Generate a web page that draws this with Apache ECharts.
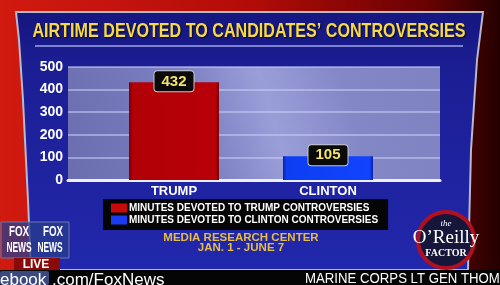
<!DOCTYPE html>
<html>
<head>
<meta charset="utf-8">
<script src="https://cdn.jsdelivr.net/npm/echarts@6/dist/echarts.min.js"></script>
<style>html,body{margin:0;padding:0;background:#000;}#c{width:500px;height:285px;}</style>
</head>
<body>
<div id="c"></div>
<script>
const chartTitle = 'AIRTIME DEVOTED TO CANDIDATES\u2019 CONTROVERSIES';
const categories = ['TRUMP', 'CLINTON'];
const seriesNames = ['MINUTES DEVOTED TO TRUMP CONTROVERSIES', 'MINUTES DEVOTED TO CLINTON CONTROVERSIES'];
const trumpMinutes = [432, '-'];
const clintonMinutes = ['-', 105];
const yMin = 0, yMax = 500, yStep = 100;
const sourceLines = ['MEDIA RESEARCH CENTER', 'JAN. 1 - JUNE 7'];
const tickerLeft = '.com/FoxNews';
const tickerRight = 'MARINE CORPS LT GEN THOM';

const FONT = '"Liberation Sans", Arial, sans-serif';
const chart = echarts.init(document.getElementById('c'), null, {renderer: 'canvas'});
const G = echarts.graphic;

const option = {
  animation: false,
  backgroundColor: new G.LinearGradient(0, 0, 1, 0, [
    {offset: 0, color: '#d11a10'}, {offset: 0.5, color: '#b30c08'},
    {offset: 0.85, color: '#6a0202'}, {offset: 1, color: '#250000'}
  ]),
  textStyle: {fontFamily: FONT},
  graphic: [
    // blue panel
    {type: 'polygon', z: -10, shape: {points: [[16,12],[483,12],[477,60],[471,150],[468,270],[31,270],[28,200],[23,100],[19,40]]},
     style: {fill: new G.LinearGradient(0,0,0,1,[{offset:0,color:'#16167e'},{offset:0.2,color:'#1b1d92'},{offset:1,color:'#2228ac'}]), stroke: '#b9b9cc', lineWidth: 2}},
    {type: 'line', z: -9, shape: {x1: 35, y1: 46, x2: 463, y2: 46}, style: {stroke: '#9ea4e4', lineWidth: 1.5}},
    {type: 'text', z: 5, x: 249, y: 31, scaleX: 0.768,
     style: {text: chartTitle, font: 'bold 21px ' + FONT, fill: '#f6d94a', align: 'center', verticalAlign: 'middle',
             textShadowColor: 'rgba(0,0,0,0.8)', textShadowBlur: 2, textShadowOffsetX: 1, textShadowOffsetY: 1}},
    // source
    {type: 'text', x: 241, y: 238, style: {text: sourceLines[0], font: 'bold 11.5px ' + FONT, fill: '#e6bd45', align: 'center', verticalAlign: 'middle'}},
    {type: 'text', x: 241, y: 248, style: {text: sourceLines[1], font: 'bold 11.5px ' + FONT, fill: '#e6bd45', align: 'center', verticalAlign: 'middle'}},
    // bottom ticker
    {type: 'rect', z: 10, shape: {x: 0, y: 270, width: 500, height: 15}, style: {fill: '#050505'}},
    {type: 'rect', z: 11, shape: {x: 0, y: 271, width: 49, height: 14, r: 2}, style: {fill: '#3a4a80'}},
    {type: 'text', z: 12, x: 0, y: 280, style: {text: 'ebook', font: '17px ' + FONT, fill: '#ffffff', verticalAlign: 'middle'}},
    {type: 'text', z: 12, x: 52, y: 280, style: {text: tickerLeft, font: '17px ' + FONT, fill: '#ffffff', verticalAlign: 'middle'}},
    {type: 'text', z: 12, x: 305, y: 279, scaleX: 0.88, style: {text: tickerRight, font: '15px ' + FONT, fill: '#ffffff', verticalAlign: 'middle'}},
    // fox news logo
    {type: 'rect', z: 10, shape: {x: 1, y: 222, width: 68, height: 36}, style: {fill: 'rgba(40,60,140,0.75)', stroke: '#6a7ab0', lineWidth: 1}},
    {type: 'text', z: 11, x: 19, y: 232, scaleX: 0.7, style: {text: 'FOX', font: 'bold 14px ' + FONT, fill: '#fff', align: 'center', verticalAlign: 'middle'}},
    {type: 'text', z: 11, x: 19, y: 248, scaleX: 0.6, style: {text: 'NEWS', font: 'bold 14px ' + FONT, fill: '#fff', align: 'center', verticalAlign: 'middle'}},
    {type: 'text', z: 11, x: 53, y: 232, scaleX: 0.7, style: {text: 'FOX', font: 'bold 14px ' + FONT, fill: '#fff', align: 'center', verticalAlign: 'middle'}},
    {type: 'text', z: 11, x: 50, y: 248, scaleX: 0.6, style: {text: 'NEWS', font: 'bold 14px ' + FONT, fill: '#fff', align: 'center', verticalAlign: 'middle'}},
    {type: 'rect', z: 10, shape: {x: 14, y: 258, width: 46, height: 12}, style: {fill: '#8a0a0a'}},
    {type: 'text', z: 11, x: 36, y: 264.5, style: {text: 'LIVE', font: 'bold 12px ' + FONT, fill: '#fff', align: 'center', verticalAlign: 'middle'}},
    // o'reilly logo
    {type: 'circle', z: 10, shape: {cx: 446, cy: 240, r: 28}, style: {fill: '#16163a', stroke: '#b01020', lineWidth: 4}},
    {type: 'text', z: 11, x: 446, y: 224, style: {text: 'the', font: 'italic 9px "Liberation Serif", serif', fill: '#fff', align: 'center', verticalAlign: 'middle'}},
    {type: 'text', z: 11, x: 446, y: 238, style: {text: 'O\u2019Reilly', font: '19px "Liberation Serif", serif', fill: '#fff', align: 'center', verticalAlign: 'middle'}},
    {type: 'text', z: 11, x: 446, y: 253, style: {text: 'FACTOR', font: 'bold 10px "Liberation Serif", serif', fill: '#fff', align: 'center', verticalAlign: 'middle'}}
  ],
  grid: [
    {left: 68, top: 67, width: 372, height: 113, show: true, borderWidth: 0,
     backgroundColor: new G.LinearGradient(0, 1, 1, 0, [
       {offset: 0, color: '#6a6dae'}, {offset: 0.35, color: '#7b7ec0'}, {offset: 0.55, color: '#9a9ed8'},
       {offset: 0.75, color: '#8487c6'}, {offset: 1, color: '#7f82c0'}])},
    {left: 97, top: 67, width: 308, height: 113}
  ],
  xAxis: [
    {type: 'category', gridIndex: 0, data: [''], axisTick: {show: false}, axisLabel: {show: false},
     axisLine: {show: true, lineStyle: {color: '#eeeef6', width: 3}}},
    {type: 'category', gridIndex: 1, data: categories, axisTick: {show: false}, axisLine: {show: false},
     axisLabel: {color: '#ffffff', fontWeight: 'bold', fontSize: 13, margin: 5, fontFamily: FONT}}
  ],
  yAxis: [
    {type: 'value', gridIndex: 0, min: yMin, max: yMax, interval: yStep,
     axisLine: {show: false}, axisTick: {show: false},
     axisLabel: {color: '#ffffff', fontWeight: 'bold', fontSize: 14, margin: 5, fontFamily: FONT},
     splitLine: {lineStyle: {color: 'rgba(200,204,245,0.75)', width: 1.5}}},
    {type: 'value', gridIndex: 1, min: yMin, max: yMax, interval: yStep, show: false}
  ],
  legend: {
    left: 103, top: 199, orient: 'vertical', backgroundColor: '#050505',
    padding: [4, 10, 5, 8], itemGap: 2, itemWidth: 16, itemHeight: 9, icon: 'rect',
    textStyle: {color: '#ffffff', fontWeight: 'bold', fontSize: 10, fontFamily: FONT, padding: [0, 0, 0, -3]},
    data: [
      {name: seriesNames[0], itemStyle: {color: '#c80a0a'}},
      {name: seriesNames[1], itemStyle: {color: '#1a3cf0'}}
    ]
  },
  series: [
    {name: seriesNames[0], type: 'bar', xAxisIndex: 1, yAxisIndex: 1, data: trumpMinutes, barWidth: 90, barGap: '-100%',
     itemStyle: {color: new G.LinearGradient(0,0,1,0,[{offset:0,color:'#7a0000'},{offset:0.04,color:'#b10006'},{offset:0.96,color:'#b80008'},{offset:1,color:'#7a0000'}])},
     label: {show: true, position: 'top', distance: 0, offset: [0, 9], formatter: '{c}', color: '#f4e46a', fontWeight: 'bold', fontSize: 15,
             fontFamily: FONT, backgroundColor: '#0a0a0a', borderColor: '#c8c8c8', borderWidth: 1, borderRadius: 3, padding: [2, 7], lineHeight: 16}},
    {name: seriesNames[1], type: 'bar', xAxisIndex: 1, yAxisIndex: 1, data: clintonMinutes, barWidth: 90,
     itemStyle: {color: new G.LinearGradient(0,0,1,0,[{offset:0,color:'#0a22a8'},{offset:0.04,color:'#0c3ef2'},{offset:0.96,color:'#1244ff'},{offset:1,color:'#0a22a8'}])},
     label: {show: true, position: 'top', distance: 0, offset: [0, 9], formatter: '{c}', color: '#f4e46a', fontWeight: 'bold', fontSize: 15,
             fontFamily: FONT, backgroundColor: '#0a0a0a', borderColor: '#c8c8c8', borderWidth: 1, borderRadius: 3, padding: [2, 7], lineHeight: 16}}
  ]
};
chart.setOption(option);
</script>
</body>
</html>
